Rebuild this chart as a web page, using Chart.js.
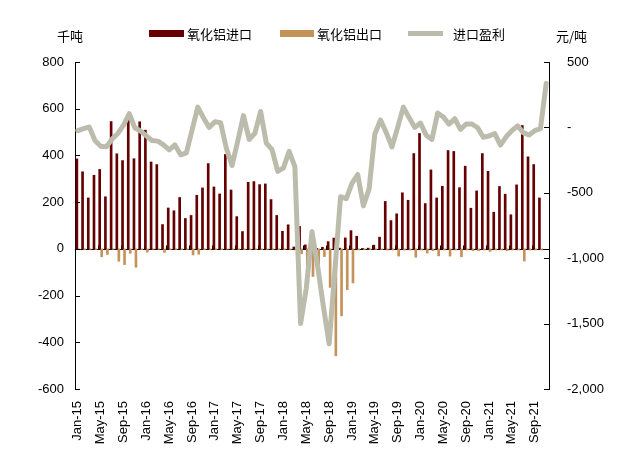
<!DOCTYPE html>
<html>
<head>
<meta charset="utf-8">
<script src="https://cdn.jsdelivr.net/npm/chart.js@4.4.1/dist/chart.umd.min.js"></script>
<style>
  html, body { margin: 0; padding: 0; background: #fff; }
  #wrap { position: relative; width: 620px; height: 467px; }
</style>
</head>
<body>
<div id="wrap"><canvas id="chart"></canvas></div>
<script>
const months = [
  'Jan-15','Feb-15','Mar-15','Apr-15','May-15','Jun-15','Jul-15','Aug-15','Sep-15','Oct-15','Nov-15','Dec-15',
  'Jan-16','Feb-16','Mar-16','Apr-16','May-16','Jun-16','Jul-16','Aug-16','Sep-16','Oct-16','Nov-16','Dec-16',
  'Jan-17','Feb-17','Mar-17','Apr-17','May-17','Jun-17','Jul-17','Aug-17','Sep-17','Oct-17','Nov-17','Dec-17',
  'Jan-18','Feb-18','Mar-18','Apr-18','May-18','Jun-18','Jul-18','Aug-18','Sep-18','Oct-18','Nov-18','Dec-18',
  'Jan-19','Feb-19','Mar-19','Apr-19','May-19','Jun-19','Jul-19','Aug-19','Sep-19','Oct-19','Nov-19','Dec-19',
  'Jan-20','Feb-20','Mar-20','Apr-20','May-20','Jun-20','Jul-20','Aug-20','Sep-20','Oct-20','Nov-20','Dec-20',
  'Jan-21','Feb-21','Mar-21','Apr-21','May-21','Jun-21','Jul-21','Aug-21','Sep-21','Oct-21','Nov-21'
];

// 氧化铝进口 (千吨)
const importVol = [
  385, 330, 218, 315, 340, 223, 545, 407, 378, 563, 386, 544,
  508, 372, 361, 104, 175, 163, 220, 130, 143, 229, 261, 365,
  265, 235, 404, 252, 138, 74, 285, 288, 275, 278, 211, 143,
  75, 103, 8, 96, 17, 2, 2, 7, 31, 46, 3, 47,
  78, 54, 2, 3, 16, 50, 203, 121, 150, 240, 208, 408,
  494, 194, 338, 218, 268, 421, 417, 262, 354, 174, 248, 408,
  332, 157, 267, 234, 146, 274, 528, 394, 361, 218, null
];

// 氧化铝出口 (千吨)
const exportVol = [
  -3, -3, -2, -3, -34, -24, -2, -53, -67, -19, -79, -3,
  -14, -2, -2, -15, -3, -3, -3, -3, -26, -23, -3, -3,
  -3, -3, -2, -3, -3, -3, -3, -3, -3, -3, -3, -3,
  -3, -3, -5, -21, -133, -118, -68, -33, -165, -458, -287, -175,
  -146, -5, -3, -3, -3, -3, -5, -5, -31, -5, -5, -36,
  -5, -18, -8, -30, -5, -31, -5, -34, -5, -8, -8, -5,
  -11, -5, -5, -8, -5, -5, -52, -5, -5, -5, null
];

// 进口盈利 (元/吨)
const importProfit = [
  -25, -10, 3, -100, -145, -148, -89, -46, 18, 105, -5, -28,
  -65, -101, -105, -134, -172, -134, -210, -195, -20, 155, 74, 0,
  44, 36, -160, -290, -104, 90, -92, -45, 122, -120, -170, -336,
  -309, -183, -300, -1500, -1230, -797, -1065, -1371, -1655, -1095, -530, -545,
  -428, -360, -600, -470, -50, 57, -40, -150, 0, 155, 75, 0,
  33, -60, -92, 110, 80, 25, 66, -15, 26, 26, -3, -75,
  -66, -48, -135, -72, -25, 12, -40, -58, -25, -10, 335
];

const volumeTicks = [800, 600, 400, 200, 0, -200, -400, -600];
const profitTicks = [500, 0, -500, -1000, -1500, -2000];
const profitTickLabels = ['500', '-', '-500', '-1,000', '-1,500', '-2,000'];

const IMPORT_COLOR = '#660000';
const EXPORT_COLOR = '#C4935A';
const PROFIT_COLOR = '#BCBCAD';

Chart.defaults.font.family = "'Liberation Sans', Arial, 'Noto Sans CJK SC', sans-serif";
Chart.defaults.font.size = 13;
Chart.defaults.color = '#000';

const decor = {
  id: 'decor',
  beforeDatasetsDraw(chart) {
    const { ctx, chartArea: a, scales: { x, y } } = chart;
    const y0 = Math.round(y.getPixelForValue(0)) + 0.5;
    ctx.save();
    ctx.strokeStyle = '#000';
    ctx.lineWidth = 1;
    ctx.beginPath();
    ctx.moveTo(a.left, y0);
    ctx.lineTo(a.right, y0);
    // small ticks on the zero line every 4 months
    const step = (a.right - a.left) / months.length;
    for (let i = 4; i < months.length; i += 4) {
      const px = Math.round(a.left + i * step) + 0.5;
      ctx.moveTo(px, y0);
      ctx.lineTo(px, y0 - 4);
    }
    ctx.stroke();
    ctx.restore();
  },
  afterDraw(chart) {
    const { ctx, chartArea: a, scales: { y, y1 } } = chart;
    ctx.save();
    ctx.strokeStyle = '#000';
    ctx.lineWidth = 1;
    ctx.beginPath();
    volumeTicks.forEach(v => {
      const py = Math.round(y.getPixelForValue(v)) + 0.5;
      ctx.moveTo(a.left, py);
      ctx.lineTo(a.left + 5, py);
    });
    profitTicks.forEach(v => {
      const py = Math.round(y1.getPixelForValue(v)) + 0.5;
      ctx.moveTo(a.right, py);
      ctx.lineTo(a.right - 5, py);
    });
    ctx.stroke();

    // legend + units
    ctx.font = "13px 'Noto Sans CJK SC', 'Liberation Sans', sans-serif";
    ctx.fillStyle = '#000';
    ctx.textBaseline = 'middle';
    ctx.textAlign = 'left';
    ctx.fillText('千吨', 57, 36);
    ctx.fillText('元/吨', 556, 36);

    ctx.fillStyle = IMPORT_COLOR;
    ctx.fillRect(149, 30, 35, 7);
    ctx.fillStyle = '#000';
    ctx.fillText('氧化铝进口', 187, 34);

    ctx.fillStyle = EXPORT_COLOR;
    ctx.fillRect(280, 30, 34, 7);
    ctx.fillStyle = '#000';
    ctx.fillText('氧化铝出口', 317, 34);

    ctx.fillStyle = PROFIT_COLOR;
    ctx.fillRect(408, 31, 35, 5);
    ctx.fillStyle = '#000';
    ctx.fillText('进口盈利', 453, 34);
    ctx.restore();
  }
};

new Chart(document.getElementById('chart'), {
  type: 'bar',
  data: {
    labels: months,
    datasets: [
      {
        label: '氧化铝进口',
        data: importVol,
        backgroundColor: IMPORT_COLOR,
        barThickness: 2,
        yAxisID: 'y',
        order: 1
      },
      {
        label: '氧化铝出口',
        data: exportVol,
        backgroundColor: EXPORT_COLOR,
        barThickness: 2,
        yAxisID: 'y',
        order: 1
      },
      {
        type: 'line',
        label: '进口盈利',
        data: importProfit,
        borderColor: PROFIT_COLOR,
        borderWidth: 5,
        pointRadius: 0,
        tension: 0,
        borderJoinStyle: 'round',
        borderCapStyle: 'round',
        yAxisID: 'y1',
        order: 0
      }
    ]
  },
  options: {
    responsive: true,
    maintainAspectRatio: false,
    animation: false,
    layout: { padding: { top: 62, left: 0, right: 0, bottom: 0 } },
    plugins: { legend: { display: false }, tooltip: { enabled: false } },
    scales: {
      x: {
        grid: { display: false },
        border: { display: false },
        ticks: {
          autoSkip: false,
          minRotation: 90,
          maxRotation: 90,
          padding: 4,
          callback: (v, i) => (i % 4 === 0 ? months[i] : '')
        },
        afterFit: s => { s.height = 78; }
      },
      y: {
        position: 'left',
        min: -600,
        max: 800,
        afterBuildTicks: s => { s.ticks = volumeTicks.map(v => ({ value: v })); },
        grid: { display: false, drawTicks: false },
        border: { display: true, color: '#000', width: 1 },
        ticks: { padding: 11 },
        afterFit: s => { s.width = 75; }
      },
      y1: {
        position: 'right',
        min: -2000,
        max: 500,
        afterBuildTicks: s => { s.ticks = profitTicks.map(v => ({ value: v })); },
        grid: { display: false, drawTicks: false },
        border: { display: true, color: '#000', width: 1 },
        ticks: {
          padding: 18,
          callback: v => profitTickLabels[profitTicks.indexOf(v)]
        },
        afterFit: s => { s.width = 71; }
      }
    }
  },
  plugins: [decor]
});
</script>
</body>
</html>
